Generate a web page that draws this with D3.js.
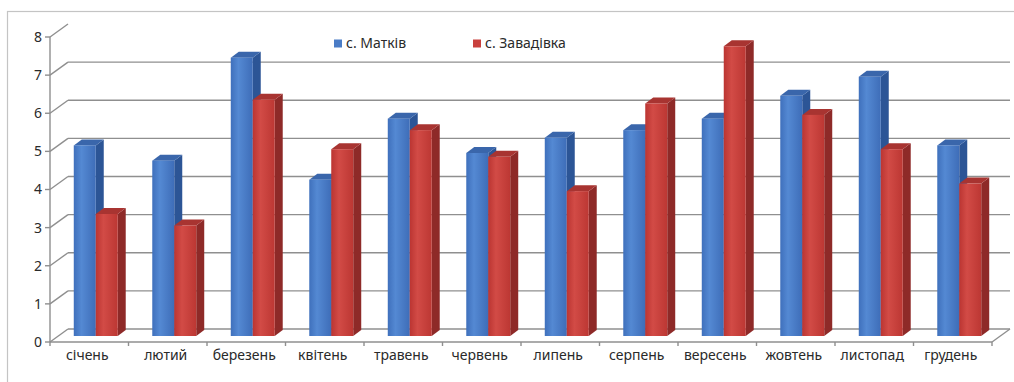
<!DOCTYPE html>
<html>
<head>
<meta charset="utf-8">
<script src="https://cdn.jsdelivr.net/npm/d3@7"></script>
<style>
  body { margin: 0; background: #fff; }
  svg { display: block; }
  text { font-family: "Noto Sans", "DejaVu Sans", sans-serif; fill: #2a2a2a; }
</style>
</head>
<body>
<svg id="chart" width="1014" height="382"></svg>
<script>
// Monthly values for two villages
const months = ["січень", "лютий", "березень", "квітень", "травень", "червень",
                "липень", "серпень", "вересень", "жовтень", "листопад", "грудень"];
const matkiv    = [5.0, 4.6, 7.3, 4.1, 5.7, 4.8, 5.2, 5.4, 5.7, 6.3, 6.8, 5.0];
const zavadivka = [3.2, 2.9, 6.2, 4.9, 5.4, 4.7, 3.8, 6.1, 7.6, 5.8, 4.9, 4.0];
const seriesNames = ["с. Матків", "с. Завадівка"];
const yTicks = [0, 1, 2, 3, 4, 5, 6, 7, 8];

const svg = d3.select("#chart");

// Plot geometry (front plane of the 3D box)
const plotLeft = 50, plotRight = 992, plotBottom = 342, plotTop = 37;
const depthX = 18, depthY = -13;       // full depth of the floor/walls
const barShiftX = 6.5, barShiftY = -6; // where the bar fronts sit in depth
const barDX = 8, barDY = -6;           // depth of each bar

const x = d3.scaleBand().domain(months).range([plotLeft, plotRight])
  .paddingInner(0.44).paddingOuter(0.22);
const xs = d3.scaleBand().domain(seriesNames).range([0, x.bandwidth()]);
const y = d3.scaleLinear().domain([0, 8]).range([plotBottom, plotTop]);

const series = [
  { name: seriesNames[0], values: matkiv, front: "blueFront", side: "#2c5596", topc: "#3a66ab", key: "#4a7cc6" },
  { name: seriesNames[1], values: zavadivka, front: "redFront", side: "#8e2a28", topc: "#a83431", key: "#c9403d" }
];

// Gradients for the bar fronts
const defs = svg.append("defs");
function grad(id, stops) {
  const g = defs.append("linearGradient").attr("id", id)
    .attr("x1", "0%").attr("x2", "100%").attr("y1", "0%").attr("y2", "0%");
  stops.forEach(([o, c]) => g.append("stop").attr("offset", o).attr("stop-color", c));
}
grad("blueFront", [["0%", "#3f70bc"], ["35%", "#5489d3"], ["100%", "#3e6db8"]]);
grad("redFront", [["0%", "#bb3532"], ["35%", "#d24b46"], ["100%", "#bc3733"]]);

// Outer border
svg.append("rect").attr("x", 7.5).attr("y", 11.5).attr("width", 1020).attr("height", 400)
  .attr("fill", "none").attr("stroke", "#c4c4c4").attr("stroke-width", 1.2);

const grid = svg.append("g").attr("stroke", "#8f8f8f").attr("stroke-width", 1.4).attr("fill", "none");

// Back-wall gridlines and side-wall diagonals
yTicks.forEach(v => {
  const yy = y(v);
  grid.append("line").attr("x1", plotLeft).attr("y1", yy).attr("x2", plotLeft + depthX).attr("y2", yy + depthY);
  if (v > 0 && v < 8) {
    grid.append("line").attr("x1", plotLeft + depthX).attr("y1", yy + depthY)
      .attr("x2", plotRight + depthX).attr("y2", yy + depthY);
  }
});

// Floor
grid.append("line").attr("x1", plotLeft + depthX).attr("y1", y(0) + depthY)
  .attr("x2", plotRight + depthX).attr("y2", y(0) + depthY);
grid.append("line").attr("x1", plotRight).attr("y1", y(0))
  .attr("x2", plotRight + depthX).attr("y2", y(0) + depthY);
grid.append("line").attr("x1", plotLeft).attr("y1", y(0)).attr("x2", plotRight).attr("y2", y(0));

// Vertical axis line and ticks
grid.append("line").attr("x1", plotLeft).attr("y1", y(8)).attr("x2", plotLeft).attr("y2", y(0));
yTicks.forEach(v => {
  grid.append("line").attr("x1", plotLeft - 5).attr("y1", y(v)).attr("x2", plotLeft).attr("y2", y(v));
});

// Category ticks along the floor edge
const bounds = months.map(m => x(m) - x.step() * x.paddingInner() / 2).concat([plotRight]);
bounds.forEach(b => {
  grid.append("line").attr("x1", b).attr("y1", y(0)).attr("x2", b).attr("y2", y(0) + 4);
});

// Bars
const bars = svg.append("g");
months.forEach((m, i) => {
  series.forEach(s => {
    const v = s.values[i];
    const x0 = x(m) + xs(s.name) + barShiftX;
    const x1 = x0 + xs.bandwidth();
    const yb = y(0) + barShiftY;
    const yt = y(v) + barShiftY;
    // side face
    bars.append("polygon")
      .attr("points", [[x1, yb], [x1 + barDX, yb + barDY], [x1 + barDX, yt + barDY], [x1, yt]].join(" "))
      .attr("fill", s.side);
    // top face
    bars.append("polygon")
      .attr("points", [[x0, yt], [x0 + barDX, yt + barDY], [x1 + barDX, yt + barDY], [x1, yt]].join(" "))
      .attr("fill", s.topc);
    // front face
    bars.append("rect")
      .attr("x", x0).attr("y", yt).attr("width", x1 - x0).attr("height", yb - yt)
      .attr("fill", `url(#${s.front})`);
  });
});

// Y tick labels
svg.append("g").selectAll("text").data(yTicks).join("text")
  .attr("x", plotLeft - 8).attr("y", d => y(d)).attr("dy", "0.35em")
  .attr("text-anchor", "end").attr("font-size", 14).text(d => d);

// Category labels
svg.append("g").selectAll("text").data(months).join("text")
  .attr("x", d => x(d) + x.bandwidth() / 2 - 2).attr("y", 360)
  .attr("text-anchor", "middle").attr("font-size", 14).text(d => d);

// Legend
const legendX = [334, 473];
series.forEach((s, i) => {
  svg.append("rect").attr("x", legendX[i]).attr("y", 39.5).attr("width", 8).attr("height", 8)
    .attr("fill", s.key);
  svg.append("text").attr("x", legendX[i] + 12).attr("y", 43.5).attr("dy", "0.35em")
    .attr("font-size", 14).text(s.name);
});
</script>
</body>
</html>
